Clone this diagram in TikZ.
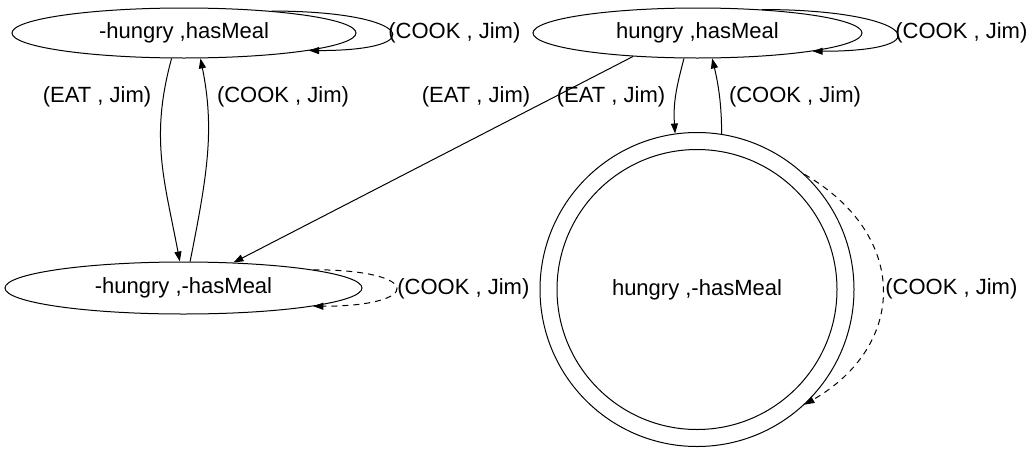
\documentclass[tikz,border=0pt]{standalone}
\usepackage{fontspec}
\setmainfont{Liberation Sans}
\usetikzlibrary{shapes.geometric,arrows.meta}
\begin{document}
\begin{tikzpicture}[x=0.5pt,y=0.5pt,
	font=\fontsize{11}{13}\selectfont,
	stateEllipse/.style={ellipse, draw=black, line width=0.5pt, inner sep=0pt, minimum height=25pt},
	stateCircle/.style={circle, draw=black, line width=0.5pt, inner sep=0pt},
	trans/.style={-{Triangle[length=5pt,width=3.5pt]}, line width=0.5pt},
	dashedTrans/.style={trans, dash pattern=on 3pt off 2.5pt},
	edgeLabel/.style={inner sep=0pt}]

		\useasboundingbox (0,0) rectangle (1028,-450);

		\node[stateEllipse, minimum width=172pt](notHungryMeal) at (184,-33){-hungry ,hasMeal};
		\node[stateEllipse, minimum width=164.5pt](hungryMeal) at (697.5,-33){hungry ,hasMeal};
		\node[stateEllipse, minimum width=178.5pt, minimum height=26pt](notHungryNoMeal) at (183.5,-288){-hungry ,-hasMeal};
		\node[stateCircle, minimum size=157pt](hungryNoMeal) at (697,-289.5){hungry ,-hasMeal};
		\node[stateCircle, minimum size=140pt](hungryNoMealInner) at (hungryNoMeal.center){};

		\node[edgeLabel, anchor=west](cookLabelOne) at (388,-33){(COOK , Jim)};
		\node[edgeLabel, anchor=west](cookLabelTwo) at (895,-33){(COOK , Jim)};
		\node[edgeLabel](eatLabelOne) at (97,-97){(EAT , Jim)};
		\node[edgeLabel](cookLabelThree) at (283,-97){(COOK , Jim)};
		\node[edgeLabel](eatLabelTwo) at (476,-97){(EAT , Jim)};
		\node[edgeLabel](eatLabelThree) at (611,-97){(EAT , Jim)};
		\node[edgeLabel](cookLabelFour) at (795,-97){(COOK , Jim)};
		\node[edgeLabel, anchor=west](cookLabelFive) at (397,-289){(COOK , Jim)};
		\node[edgeLabel, anchor=west](cookLabelSix) at (885,-289){(COOK , Jim)};

		\draw [trans] (notHungryMeal.14) .. controls +(140,0) and +(125,0) .. (notHungryMeal.-8);
		\draw [trans] (hungryMeal.20) .. controls +(150,0) and +(134,0) .. (hungryMeal.-9);
		\draw [trans] (notHungryMeal.-116) .. controls +(-22,-80) and +(-15,80) .. (notHungryNoMeal.98);
		\draw [trans] (notHungryNoMeal.76) .. controls +(18,90) and +(14,-70) .. (notHungryMeal.-57);
		\draw [trans] (hungryMeal.200) -- (notHungryNoMeal.27);
		\draw [trans] (hungryMeal.-118) .. controls +(-8,-30) and +(-2,30) .. (hungryNoMeal.98);
		\draw [trans] (hungryNoMeal.81) .. controls +(0,30) and +(6,-25) .. (hungryMeal.-60);
		\draw [dashedTrans] (notHungryNoMeal.8) .. controls +(110,0) and +(110,0) .. (notHungryNoMeal.-8);
		\draw [dashedTrans] (hungryNoMeal.47) .. controls +(104,-60) and +(104,60) .. (hungryNoMeal.-47);
	\end{tikzpicture}
\end{document}
